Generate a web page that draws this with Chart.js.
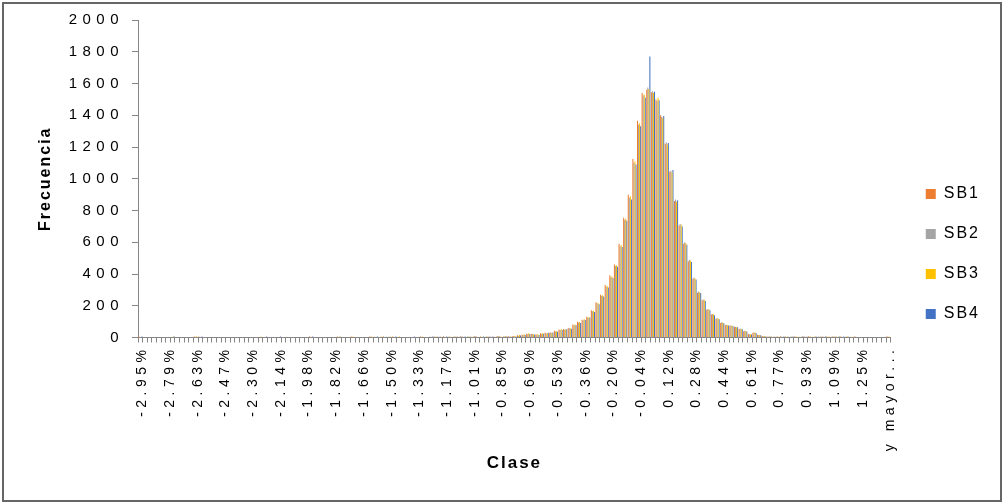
<!DOCTYPE html>
<html>
<head>
<meta charset="utf-8">
<title>Frecuencia por clase</title>
<script src="https://cdn.jsdelivr.net/npm/chart.js@4.4.1/dist/chart.umd.min.js"></script>
<style>
  html, body { margin: 0; padding: 0; background: #ffffff; }
  canvas { display: block; }
</style>
</head>
<body>
<canvas id="chart" width="1007" height="504"></canvas>
<script>
// Class marks shown under the axis (one every six bins) and the last open class.
const tickLabels = ['-2.95%', '-2.79%', '-2.63%', '-2.47%', '-2.30%', '-2.14%', '-1.98%',
  '-1.82%', '-1.66%', '-1.50%', '-1.33%', '-1.17%', '-1.01%', '-0.85%', '-0.69%',
  '-0.53%', '-0.36%', '-0.20%', '-0.04%', '0.12%', '0.28%', '0.44%', '0.61%',
  '0.77%', '0.93%', '1.09%', '1.25%', 'y mayor...'];
const labelStep = 6;
const binCount = 163;

// Frequencies per class for each series
const sb1 = [
  8, 0, 0, 0, 0, 0, 0, 0, 0, 0,
  0, 0, 7, 6, 0, 0, 0, 0, 0, 0,
  0, 0, 0, 0, 0, 0, 0, 0, 0, 0,
  0, 0, 0, 0, 0, 0, 0, 8, 0, 0,
  0, 0, 0, 7, 0, 0, 6, 0, 0, 0,
  6, 5, 0, 6, 0, 7, 0, 0, 0, 0,
  0, 7, 0, 5, 6, 0, 8, 5, 0, 7,
  6, 0, 5, 8, 6, 0, 7, 5, 9, 6,
  8, 10, 14, 18, 24, 22, 21, 26, 31, 30,
  42, 50, 53, 58, 82, 100, 112, 131, 172, 222,
  270, 330, 392, 460, 590, 755, 900, 1125, 1365, 1540,
  1560, 1545, 1500, 1400, 1220, 1045, 860, 705, 590, 480,
  370, 282, 235, 175, 145, 118, 92, 78, 76, 66,
  54, 40, 22, 30, 17, 10, 6, 7, 5, 8,
  6, 0, 7, 5, 6, 8, 5, 0, 6, 7,
  5, 6, 7, 0, 5, 6, 0, 0, 0, 0,
  0, 0, 8
];
const sb2 = [
  0, 0, 0, 0, 0, 0, 0, 0, 0, 0,
  0, 0, 0, 0, 0, 0, 0, 0, 0, 0,
  0, 0, 0, 0, 0, 0, 0, 0, 0, 0,
  0, 0, 0, 0, 0, 0, 0, 0, 0, 0,
  0, 0, 0, 0, 0, 0, 0, 0, 0, 0,
  5, 0, 0, 0, 5, 0, 0, 0, 0, 0,
  0, 0, 0, 5, 0, 6, 0, 5, 6, 0,
  5, 6, 0, 5, 0, 6, 5, 0, 6, 7,
  6, 8, 10, 15, 20, 24, 18, 22, 27, 33,
  38, 48, 49, 60, 76, 94, 108, 124, 165, 214,
  262, 318, 380, 450, 575, 740, 880, 1100, 1340, 1525,
  1575, 1551, 1490, 1390, 1230, 1050, 870, 715, 600, 490,
  378, 290, 240, 180, 148, 122, 96, 80, 74, 68,
  56, 42, 20, 32, 15, 8, 5, 0, 6, 5,
  0, 6, 5, 0, 7, 5, 0, 6, 5, 0,
  6, 0, 5, 6, 0, 5, 0, 0, 0, 0,
  0, 0, 0
];
const sb3 = [
  0, 0, 0, 0, 0, 0, 0, 7, 0, 0,
  0, 0, 8, 0, 0, 0, 0, 0, 0, 0,
  0, 0, 0, 0, 0, 0, 7, 0, 0, 0,
  0, 0, 0, 0, 0, 0, 0, 0, 0, 0,
  0, 0, 0, 6, 0, 0, 7, 0, 0, 0,
  7, 0, 7, 0, 6, 0, 6, 0, 0, 0,
  0, 6, 0, 0, 7, 5, 0, 6, 7, 5,
  0, 7, 6, 0, 5, 7, 0, 6, 5, 8,
  7, 9, 16, 20, 26, 20, 20, 27, 29, 28,
  40, 52, 51, 56, 80, 97, 115, 128, 168, 218,
  266, 324, 385, 455, 582, 748, 890, 1110, 1350, 1530,
  1565, 1540, 1510, 1385, 1215, 1040, 855, 710, 595, 485,
  372, 285, 238, 178, 146, 120, 94, 79, 76, 65,
  55, 41, 21, 31, 16, 9, 7, 5, 6, 0,
  7, 5, 6, 5, 0, 6, 7, 5, 0, 6,
  7, 5, 0, 6, 5, 0, 0, 0, 0, 0,
  0, 0, 6
];
const sb4 = [
  6, 0, 0, 0, 0, 0, 0, 6, 0, 0,
  0, 0, 0, 7, 0, 0, 0, 0, 0, 0,
  0, 0, 0, 0, 0, 0, 0, 6, 0, 0,
  7, 0, 0, 0, 0, 0, 0, 6, 0, 0,
  0, 0, 0, 5, 0, 0, 0, 0, 0, 0,
  0, 6, 0, 5, 0, 6, 0, 0, 0, 6,
  0, 0, 0, 6, 5, 0, 6, 0, 5, 6,
  7, 5, 6, 0, 7, 5, 6, 7, 0, 6,
  5, 7, 12, 16, 22, 18, 16, 24, 30, 31,
  36, 47, 52, 55, 78, 92, 110, 126, 160, 210,
  258, 315, 375, 446, 570, 735, 870, 1090, 1330, 1510,
  1770, 1548, 1495, 1395, 1225, 1055, 865, 700, 585, 475,
  365, 280, 230, 172, 140, 115, 90, 75, 72, 64,
  52, 38, 19, 29, 14, 7, 6, 5, 0, 6,
  5, 7, 0, 6, 5, 0, 6, 5, 7, 0,
  5, 6, 6, 5, 0, 0, 0, 0, 0, 0,
  0, 0, 0
];

const seriesNames = ['SB1', 'SB2', 'SB3', 'SB4'];
const seriesColors = ['#ED7D31', '#A5A5A5', '#FFC000', '#4472C4'];

const categories = [];
for (let i = 0; i < binCount; i++) {
  categories.push(i % labelStep === 0 ? tickLabels[i / labelStep] : '');
}

const FONT = "'Liberation Sans', Arial, sans-serif";
const AXIS_GREY = '#868686';

// Wraps a drawing method so its text is drawn with extra letter spacing.
function withSpacing(target, method, spacing) {
  if (!target || target['_spaced_' + method]) return;
  const original = target[method];
  target[method] = function (...args) {
    const ctx = this.ctx || this.chart.ctx;
    const previous = ctx.letterSpacing;
    ctx.letterSpacing = spacing;
    try {
      return original.apply(this, args);
    } finally {
      ctx.letterSpacing = previous;
    }
  };
  target['_spaced_' + method] = true;
}

const framePlugin = {
  id: 'frame',
  afterLayout(chart) {
    // move the legend block slightly right and up inside its column
    const lg = chart.legend;
    if (lg) {
      lg.left += 11; lg.right += 11;
      lg.top -= 8; lg.bottom -= 8;
    }
  },
  beforeDraw(chart) {
    const { ctx, width, height } = chart;
    ctx.save();
    ctx.fillStyle = '#ffffff';
    ctx.fillRect(0, 0, width, height);
    ctx.restore();
    withSpacing(chart.scales.x, 'drawLabels', '4.5px');
    withSpacing(chart.scales.y, 'drawLabels', '5.5px');
    withSpacing(chart.scales.x, 'drawTitle', '2px');
    withSpacing(chart.scales.y, 'drawTitle', '2px');
    withSpacing(chart.legend, 'draw', '2px');
  },
  afterDraw(chart) {
    const ctx = chart.ctx;
    ctx.save();
    ctx.strokeStyle = '#666666';
    ctx.lineWidth = 2;
    ctx.strokeRect(3, 3, 998, 498);
    ctx.restore();
  }
};

const datasets = [sb1, sb2, sb3, sb4].map((values, k) => ({
  label: seriesNames[k],
  data: values,
  backgroundColor: seriesColors[k],
  borderWidth: 0
}));

new Chart(document.getElementById('chart'), {
  type: 'bar',
  data: { labels: categories, datasets },
  options: {
    responsive: false,
    animation: false,
    devicePixelRatio: 1,
    layout: { padding: { left: 0, right: 34, top: 20, bottom: 0 } },
    datasets: { bar: { categoryPercentage: 0.9, barPercentage: 1.0 } },
    plugins: {
      tooltip: { enabled: false },
      legend: {
        position: 'right',
        labels: {
          boxWidth: 10,
          boxHeight: 10,
          padding: 24,
          color: '#000000',
          font: { family: FONT, size: 16 }
        }
      }
    },
    scales: {
      x: {
        offset: true,
        grid: {
          display: true,
          offset: true,
          drawOnChartArea: false,
          drawTicks: true,
          tickLength: 5,
          color: AXIS_GREY
        },
        border: { display: true, color: AXIS_GREY, width: 1 },
        ticks: {
          autoSkip: false,
          minRotation: 90,
          maxRotation: 90,
          padding: 3,
          labelOffset: 2,
          color: '#000000',
          font: { family: FONT, size: 14 }
        },
        title: {
          display: true,
          text: 'Clase',
          color: '#000000',
          font: { family: FONT, size: 17, weight: 'bold' },
          padding: { top: 0, bottom: 30 }
        },
        afterFit(scale) { scale.height = 166.5; }
      },
      y: {
        min: 0,
        max: 2000,
        grid: {
          display: true,
          drawOnChartArea: false,
          drawTicks: true,
          tickLength: 6,
          color: AXIS_GREY
        },
        border: { display: true, color: AXIS_GREY, width: 1 },
        ticks: {
          stepSize: 200,
          padding: 8,
          color: '#000000',
          font: { family: FONT, size: 15 },
          callback: (value) => String(value)
        },
        title: {
          display: true,
          text: 'Frecuencia',
          color: '#000000',
          font: { family: FONT, size: 16, weight: 'bold' },
          padding: { top: 36, bottom: 0 }
        },
        afterFit(scale) { scale.width = 138; }
      }
    }
  },
  plugins: [framePlugin]
});
</script>
</body>
</html>
